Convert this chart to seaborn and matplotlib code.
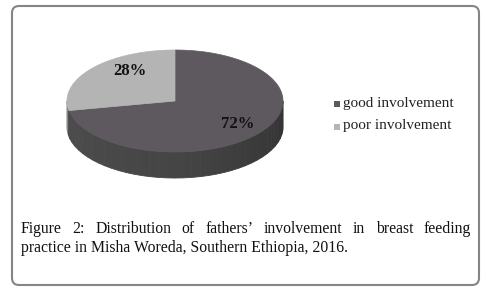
import numpy as np
import matplotlib
matplotlib.use("Agg")
import matplotlib.pyplot as plt
from matplotlib.patches import FancyBboxPatch, Polygon
import seaborn as sns

# data
categories = ["good involvement", "poor involvement"]
shares = [72, 28]
pct_labels = ["72%", "28%"]
top_colors = ["#5e595f", "#b4b4b4"]
caption_line1 = "Figure 2: Distribution of fathers\u2019 involvement in breast feeding"
caption_line2 = "practice in Misha Woreda, Southern Ethiopia, 2016."

sns.set_style("white")
plt.rcParams['font.family'] = ['Liberation Serif', 'DejaVu Serif']

W, H = 486, 289
fig = plt.figure(figsize=(W / 100, H / 100), dpi=100)
ax = fig.add_axes([0, 0, 1, 1])
ax.set_xlim(0, W)
ax.set_ylim(H, 0)
ax.axis("off")

# outer rounded frame
frame = FancyBboxPatch((12, 6), 467, 279, boxstyle="round,pad=0,rounding_size=7",
                       fc="white", ec="#858585", lw=1.5)
ax.add_patch(frame)

# 3d-ish pie geometry
cx, cy, a, b, depth = 175, 101, 108, 51, 26


def pt(t):
    return cx + a * np.cos(t), cy - b * np.sin(t)


fracs = np.array(shares) / sum(shares)
# good goes clockwise from 12 o'clock, poor fills the rest
starts = [np.pi / 2 - fracs[0] * 2 * np.pi, np.pi / 2]
ends = [np.pi / 2, np.pi / 2 + fracs[1] * 2 * np.pi]

# side wall (front half only)
side_cols = sns.blend_palette(["#4d4d4d", "#454545", "#333333"], 40)
side_light = "#8e8e8e"
n = 40
ts = np.linspace(np.pi, 2 * np.pi, n + 1)
for i in range(n):
    t0, t1 = ts[i], ts[i + 1]
    tt = np.linspace(t0, t1, 6)
    xs, ys = pt(tt)
    mid = (t0 + t1) / 2
    col = side_light if mid < ends[1] else side_cols[i]
    poly = np.column_stack([np.r_[xs, xs[::-1]], np.r_[ys, ys[::-1] + depth]])
    ax.add_patch(Polygon(poly, closed=True, fc=col, ec=col, lw=0.6))

# top faces
for s, e, c in zip(starts, ends, top_colors):
    tt = np.linspace(s, e, 200)
    xs, ys = pt(tt)
    poly = np.column_stack([np.r_[cx, xs], np.r_[cy, ys]])
    ax.add_patch(Polygon(poly, closed=True, fc=c, ec=c, lw=0.5))

# percentage labels
ax.text(238, 124, pct_labels[0], fontsize=12, fontweight="bold", ha="center", va="center", color="#111111")
ax.text(130, 71, pct_labels[1], fontsize=12, fontweight="bold", ha="center", va="center", color="#111111")

# legend
for i, (lab, c) in enumerate(zip(categories, top_colors)):
    y = 103 + i * 23
    ax.scatter([337], [y + 0.5], marker="s", s=24, color=c, linewidths=0)
    ax.text(343, y, lab, fontsize=11, ha="left", va="center", color="#222222")

# caption, first line justified
fig.canvas.draw()
renderer = fig.canvas.get_renderer()
words = caption_line1.split(" ")
objs = [ax.text(0, 229, w, fontsize=11.3, ha="left", va="center", color="#111111") for w in words]
inv = ax.transData.inverted()
widths = []
for o in objs:
    bb = o.get_window_extent(renderer)
    x0 = inv.transform((bb.x0, 0))[0]
    x1 = inv.transform((bb.x1, 0))[0]
    widths.append(x1 - x0)
left, right = 21, 471
gap = (right - left - sum(widths)) / (len(words) - 1)
x = left
for o, w in zip(objs, widths):
    o.set_x(x)
    x += w + gap
ax.text(left, 248, caption_line2, fontsize=11.3, ha="left", va="center", color="#111111")

fig.savefig("out.png", dpi=100)
